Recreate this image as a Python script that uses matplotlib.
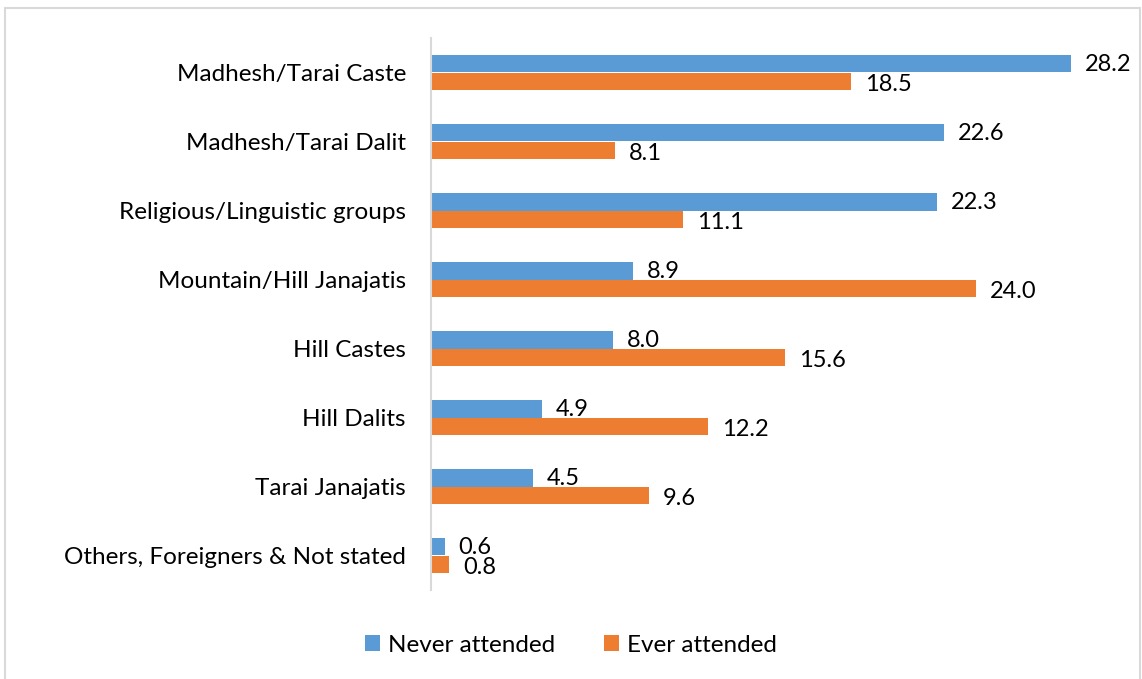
import matplotlib.pyplot as plt
from matplotlib.patches import Rectangle

plt.rcParams['font.family'] = ['Lato', 'DejaVu Sans']

# data (top to bottom)
categories = ['Madhesh/Tarai Caste', 'Madhesh/Tarai Dalit', 'Religious/Linguistic groups',
              'Mountain/Hill Janajatis', 'Hill Castes', 'Hill Dalits', 'Tarai Janajatis',
              'Others, Foreigners & Not stated']
never_attended = [28.2, 22.6, 22.3, 8.9, 8.0, 4.9, 4.5, 0.6]
ever_attended = [18.5, 8.1, 11.1, 24.0, 15.6, 12.2, 9.6, 0.8]

blue = '#5B9BD5'
orange = '#ED7D31'
h = 0.26
fs = 17.5

fig = plt.figure(figsize=(11.42, 6.79), dpi=100)
ax = fig.add_axes([431 / 1142, 1 - 590 / 679, (1112 - 431) / 1142, (590 - 38) / 679])

y = list(range(len(categories)))
yb = [i - h / 2 for i in y]
yo = [i + h / 2 for i in y]
ax.barh(yb, never_attended, height=h, color=blue, label='Never attended')
ax.barh(yo, ever_attended, height=h, color=orange, label='Ever attended')

# value labels
for yy, v in zip(yb, never_attended):
    ax.annotate(f'{v:.1f}', (v, yy), xytext=(10, -1), textcoords='offset points',
                ha='left', va='center', fontsize=fs - 0.5)
for yy, v in zip(yo, ever_attended):
    ax.annotate(f'{v:.1f}', (v, yy), xytext=(10, -2.5), textcoords='offset points',
                ha='left', va='center', fontsize=fs - 0.5)

ax.set_xlim(0, 30)
ax.set_ylim(len(categories) - 0.5, -0.5)
ax.set_yticks(y)
ax.set_yticklabels(categories, fontsize=fs)
ax.tick_params(axis='y', length=0, pad=18)
ax.set_xticks([])
for s in ['top', 'right', 'bottom']:
    ax.spines[s].set_visible(False)
ax.spines['left'].set_color('#D9D9D9')
ax.spines['left'].set_linewidth(1.5)

leg = fig.legend(loc='center', bbox_to_anchor=(0.5, 1 - 645 / 679), ncol=2, frameon=False,
                 fontsize=fs, handlelength=0.6, handleheight=0.6, columnspacing=2.0,
                 handletextpad=0.35)

# chart border
fig.patches.append(Rectangle((5 / 1142, -0.05), 1135 / 1142, 1.05 - 8 / 679,
                             transform=fig.transFigure, fill=False,
                             edgecolor='#D9D9D9', linewidth=1.5))

fig.savefig('out.png', dpi=100)
